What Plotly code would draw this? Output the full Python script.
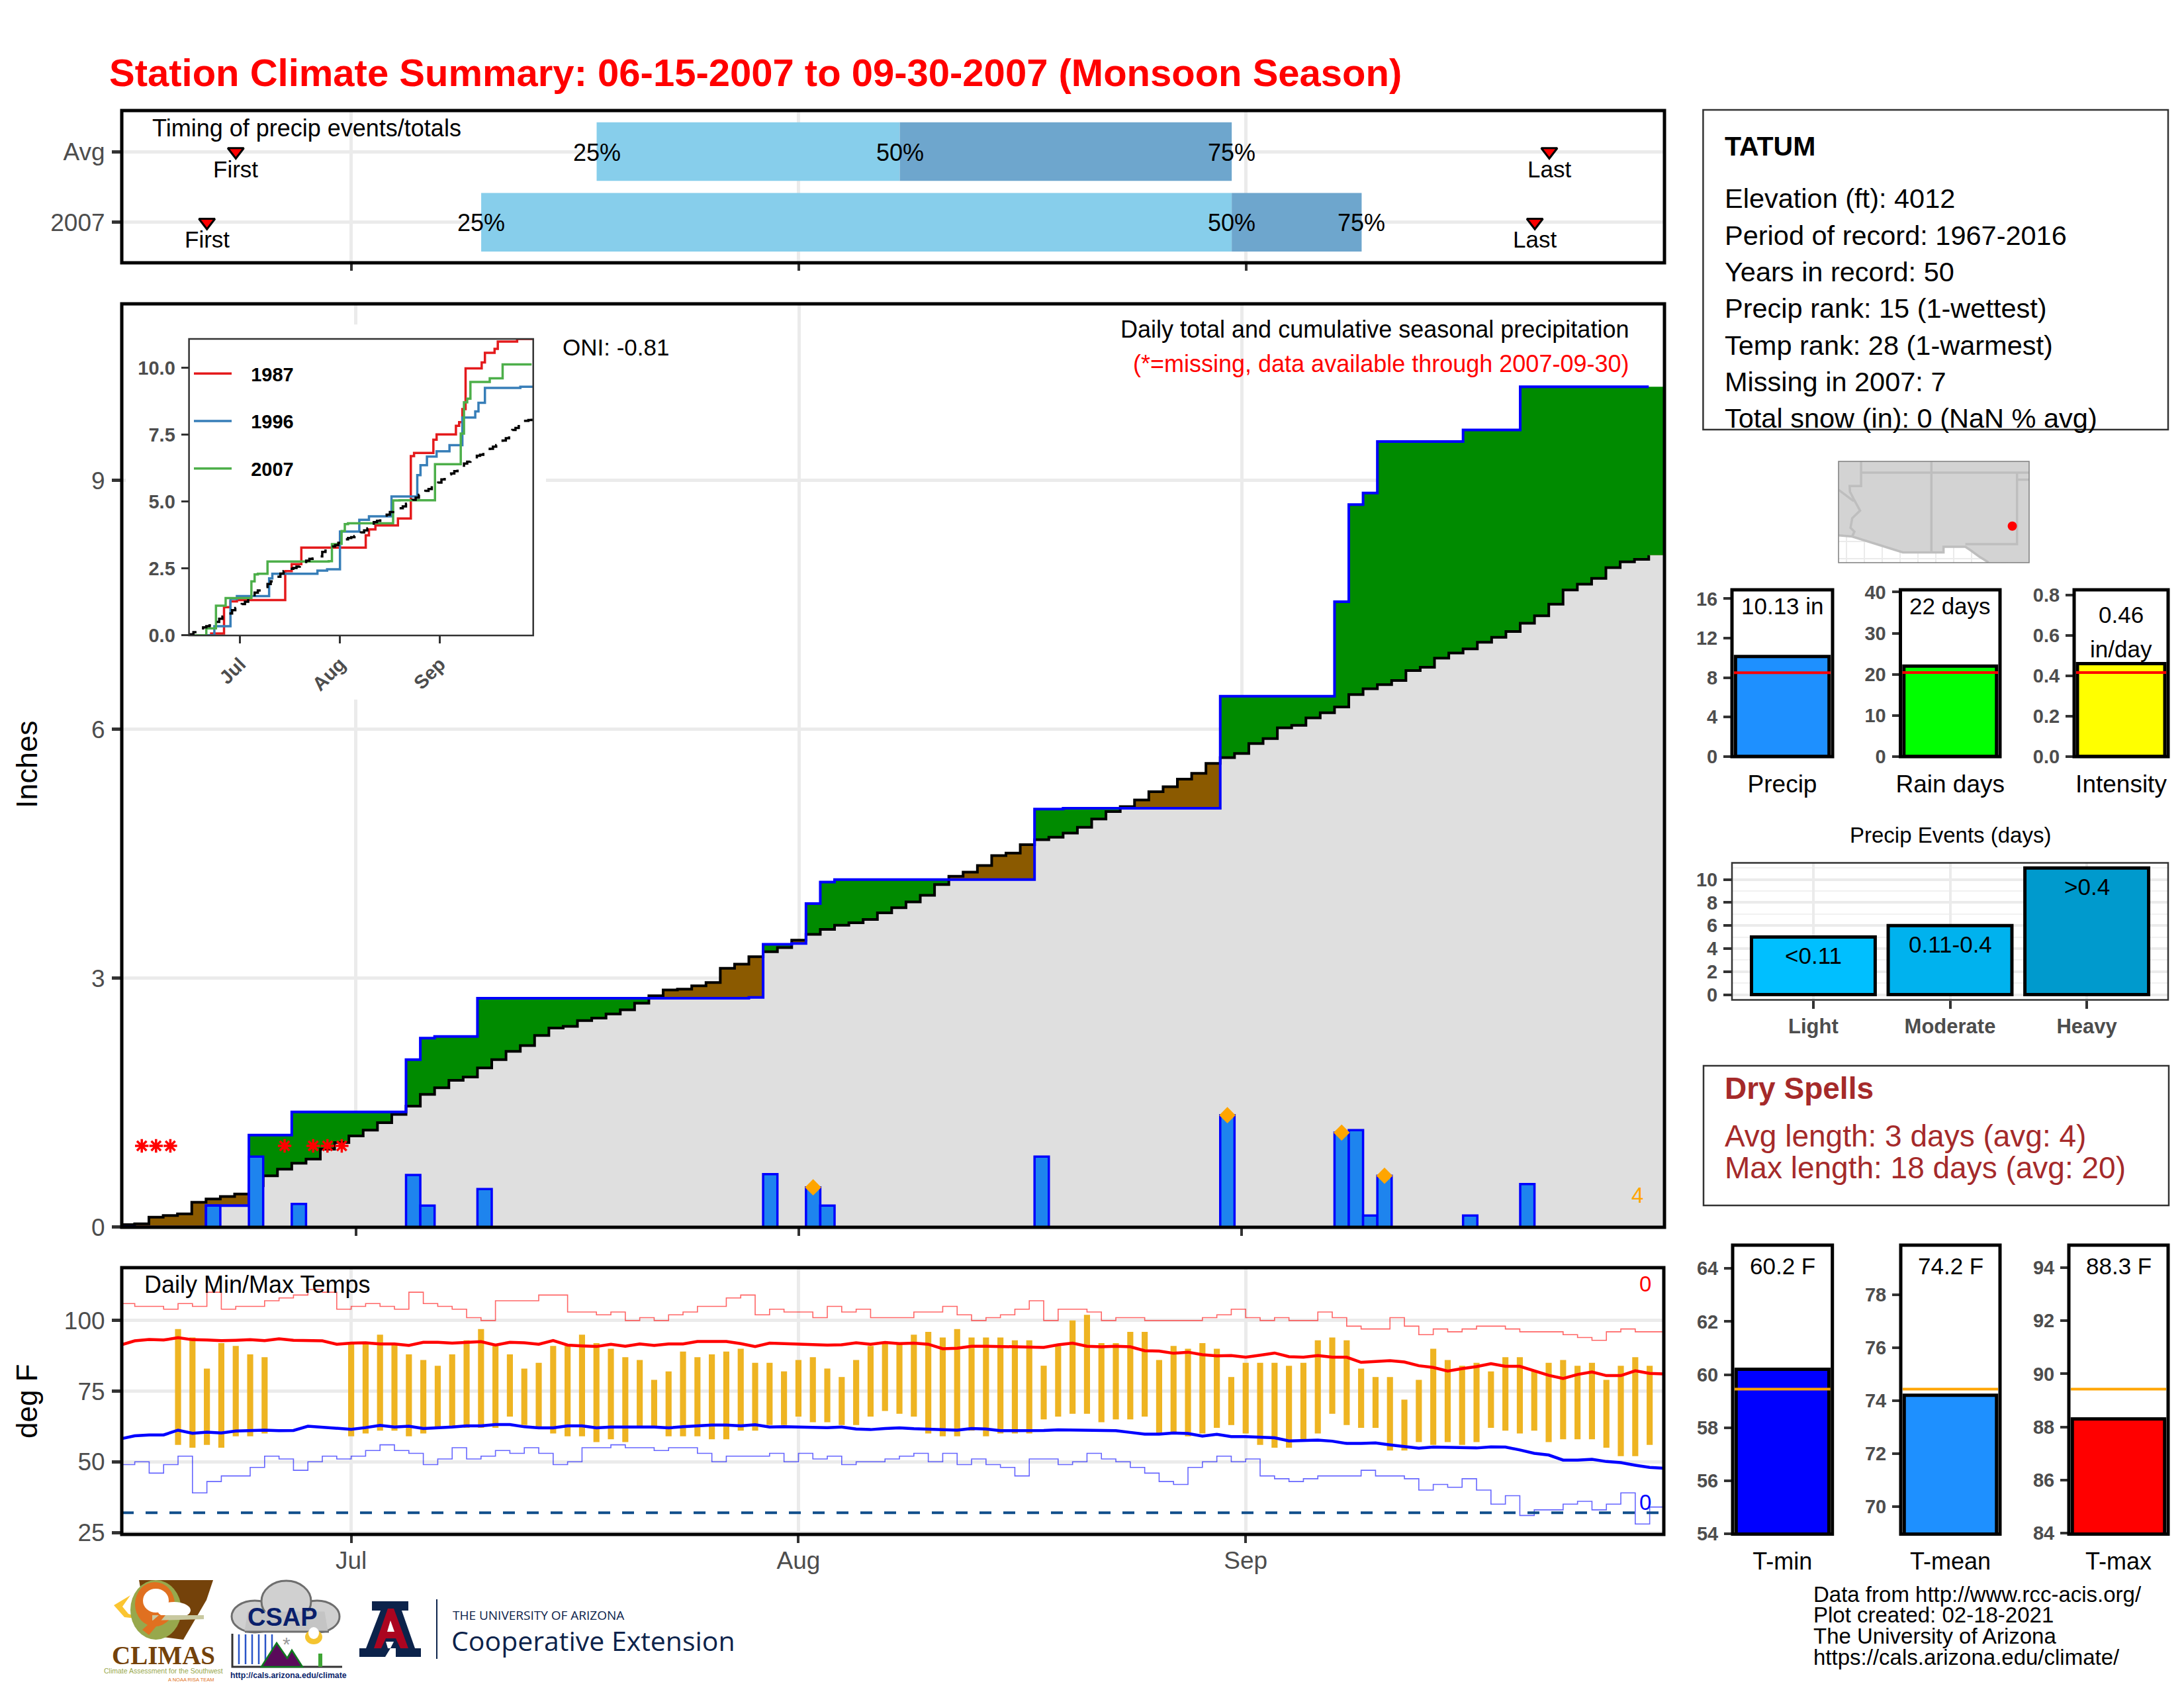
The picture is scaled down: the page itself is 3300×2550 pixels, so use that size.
import numpy as np
import plotly.graph_objects as go

# the page keeps its 8px body margin, so the figure is that much smaller than the 3300x2550 window
PAGE = 8
W, H = 3300 - 2 * PAGE, 2550 - 2 * PAGE
FONT = "Liberation Sans"

# day index: 0 = Jun 15 2007, 107 = Sep 30 2007
days = np.arange(108)
month_ticks = [16, 47, 78]
month_labels = ["Jul", "Aug", "Sep"]

# daily precip (inches)
rain_days = [6, 9, 12, 20, 21, 22, 25, 44, 45, 47, 48, 49, 50, 64, 66, 77, 85, 86, 87, 88, 94, 98]
rain_totals = [0.26, 0.85, 0.28, 0.63, 0.26, 0.02, 0.46, 0.01, 0.64, 0.01, 0.48, 0.26, 0.03,
               0.85, 0.01, 1.35, 1.14, 1.17, 0.14, 0.62, 0.14, 0.52]
extreme_days = [48, 77, 85, 88]
missing_days = [1, 2, 3, 11, 13, 14, 15]
missing_level = 0.98

# long term average cumulative precip
avg_cum = [0.03, 0.04, 0.12, 0.14, 0.16, 0.30, 0.34, 0.37, 0.40, 0.50, 0.62, 0.70, 0.77, 0.82, 0.94,
           1.02, 1.10, 1.17, 1.26, 1.36, 1.46, 1.60, 1.68, 1.77, 1.81, 1.92, 2.02, 2.12, 2.19, 2.31,
           2.40, 2.42, 2.49, 2.52, 2.57, 2.62, 2.70, 2.79, 2.86, 2.87, 2.91, 2.95, 3.12, 3.17, 3.26,
           3.32, 3.37, 3.46, 3.53, 3.59, 3.64, 3.67, 3.71, 3.79, 3.85, 3.92, 4.00, 4.13, 4.23, 4.28,
           4.36, 4.48, 4.51, 4.61, 4.67, 4.70, 4.75, 4.82, 4.92, 5.01, 5.07, 5.15, 5.25, 5.31, 5.40,
           5.47, 5.59, 5.66, 5.71, 5.83, 5.89, 6.02, 6.05, 6.14, 6.20, 6.27, 6.42, 6.49, 6.54, 6.59,
           6.71, 6.75, 6.86, 6.92, 6.97, 7.05, 7.11, 7.18, 7.28, 7.37, 7.51, 7.68, 7.75, 7.82, 7.95,
           8.02, 8.05, 8.10]

# wettest years for the inset
y1987_days = [0, 7, 11, 13, 15, 30, 32, 35, 55, 56, 58, 65, 69, 70, 76, 77, 83, 84, 85, 86, 91, 92, 95, 96, 102, 107]
y1987_cum = [0, 0.07, 1.05, 1.27, 1.32, 2.40, 2.66, 3.28, 3.74, 3.96, 4.11, 4.37, 6.70, 6.82, 7.31, 7.51,
             7.83, 7.97, 8.46, 9.98, 10.20, 10.56, 10.71, 10.98, 11.08, 11.08]
y1996_days = [0, 8, 13, 15, 25, 26, 40, 43, 47, 53, 56, 63, 71, 72, 74, 77, 81, 85, 89, 90, 92, 103, 107]
y1996_cum = [0, 0.34, 1.36, 1.47, 2.13, 2.30, 2.42, 2.47, 3.88, 4.32, 4.45, 5.19, 5.99, 6.36, 6.68, 6.88,
             7.11, 8.14, 8.37, 8.69, 9.25, 9.29, 9.29]

# daily temps, None = missing
tmax_obs = [None, None, None, None, 97, 94, 83, 92, 91, 88, 87, None, None, None, None, None,
            92, 92, 95, 92, 88, 86, 84, 88, 93, 97, 91, 88, 83, 85, 91, 91, 95, 92, 90, 87, 86, 79, 82, 89,
            87, 88, 89, 90, 85, 85, 82, 86, 87, 83, 80, 86, 91, 92, 92, 95, 96, 94, 97, 94, 94, 94, 93, 93,
            84, 91, 100, 102, 92, 92, 96, 96, 86, 91, 90, 92, 90, 80, 85, 85, 85, 84, 85, 93, 94, 93, 83, 80,
            80, 72, 79, 90, 86, 84, 85, 82, 87, 87, 82, 85, 86, 84, 85, 79, 84, 87, 84, None]
tmin_obs = [None, None, None, None, 56, 55, 56, 55, 59, 59, 60, None, None, None, None, None,
            59, 60, 61, 61, 59, 60, 62, 62, 62, 62, 62, 66, 63, 62, 60, 59, 59, 57, 58, 57, 62, 62, 59, 59,
            59, 58, 58, 61, 61, 63, 63, 66, 64, 64, 63, 63, 66, 68, 67, 66, 60, 59, 59, 61, 59, 60, 60, 60,
            65, 66, 67, 67, 64, 65, 65, 66, 60, 60, 59, 60, 62, 63, 60, 56, 55, 55, 58, 60, 67, 63, 62, 62,
            54, 54, 57, 56, 57, 56, 57, 62, 61, 60, 61, 57, 58, 58, 58, 55, 52, 52, 56, None]

# smoothed normals
tmax_avg = [91.3, 92.8, 93.3, 93.1, 93.9, 93.2, 93.1, 92.9, 93.0, 93.2, 92.9, 93.5, 93.0, 93.0, 92.8, 91.6,
            92.0, 92.1, 91.7, 91.7, 91.2, 92.3, 92.3, 92.0, 92.3, 92.5, 91.3, 92.3, 92.1, 91.6, 92.9, 91.3,
            91.0, 90.8, 91.6, 90.9, 91.7, 91.2, 91.7, 91.7, 92.6, 92.6, 92.6, 91.8, 90.8, 92.0, 91.8, 91.7,
            91.3, 91.3, 91.4, 92.1, 91.6, 92.2, 91.8, 92.0, 91.6, 90.0, 90.2, 90.9, 90.9, 90.8, 90.6, 90.5,
            90.5, 91.4, 92.0, 90.9, 90.7, 90.9, 90.7, 89.3, 89.2, 88.4, 88.8, 87.9, 87.5, 87.6, 87.0, 87.7,
            88.5, 87.2, 87.0, 87.6, 87.0, 87.0, 85.2, 85.5, 85.8, 85.3, 84.0, 83.4, 82.1, 83.0, 83.7, 84.7,
            83.8, 83.8, 82.3, 80.6, 79.5, 80.9, 81.8, 80.5, 80.5, 82.2, 81.3, 81.1]
tmin_avg = [58.1, 59.2, 59.5, 59.5, 61.2, 60.1, 60.5, 60.2, 60.9, 61.1, 61.2, 61.0, 61.1, 62.6, 62.3, 62.0,
            61.5, 62.1, 62.9, 62.3, 62.6, 61.8, 62.0, 62.3, 62.7, 62.7, 63.2, 63.2, 62.4, 62.0, 62.0, 62.7,
            62.7, 62.0, 62.3, 62.2, 62.3, 62.3, 62.0, 62.4, 62.7, 63.0, 63.0, 62.7, 63.1, 62.3, 62.4, 62.4,
            62.2, 62.1, 62.3, 61.6, 61.4, 61.8, 62.0, 61.7, 61.6, 61.3, 61.2, 61.8, 61.6, 61.0, 61.0, 61.1,
            61.1, 61.3, 61.2, 61.0, 61.1, 61.0, 60.4, 59.8, 59.8, 60.2, 60.0, 59.1, 59.7, 58.9, 58.9, 58.7,
            58.5, 57.4, 57.5, 57.7, 57.3, 56.5, 56.5, 56.7, 56.0, 55.4, 54.8, 55.2, 55.1, 54.9, 54.9, 55.3,
            55.2, 54.2, 53.0, 52.4, 50.6, 50.6, 50.9, 50.1, 49.7, 48.8, 48.0, 47.7]

# daily records
tmax_rec = [106, 105, 105, 104, 106, 105, 110, 104, 105, 105, 107, 108, 109, 111, 110, 104, 105, 106, 105, 104,
            110, 106, 105, 104, 101, 100, 107, 107, 107, 109, 109, 103, 103, 102, 103, 100, 101, 100, 102, 103,
            105, 105, 108, 109, 102, 104, 103, 103, 101, 105, 103, 104, 101, 101, 101, 103, 103, 105, 102, 100,
            101, 102, 104, 107, 100, 104, 104, 103, 100, 101, 101, 100, 100, 100, 100, 101, 102, 104, 101, 100,
            101, 100, 100, 103, 101, 98, 97, 97, 101, 98, 95, 97, 96, 97, 98, 98, 97, 96, 96, 96, 95, 94, 93,
            96, 97, 96, 96, 96]
tmin_rec = [49, 50, 46, 49, 52, 39, 43, 45, 45, 48, 52, 51, 47, 50, 52, 51, 52, 54, 56, 54, 53, 49, 51, 55, 51,
            52, 54, 53, 55, 53, 49, 50, 55, 55, 56, 55, 55, 54, 55, 55, 53, 50, 52, 52, 52, 53, 50, 53, 51, 52,
            49, 50, 50, 51, 52, 53, 50, 53, 49, 51, 49, 48, 45, 51, 51, 49, 50, 53, 51, 50, 48, 46, 43, 42, 48,
            50, 52, 50, 51, 45, 44, 43, 44, 45, 45, 45, 47, 45, 45, 44, 40, 42, 41, 44, 40, 35, 38, 31, 33, 33,
            35, 36, 33, 35, 39, 28, 34, 34]
freeze_level = [32, 32]

# timing panel
timing_cats = ["2007", "Avg"]
q25 = [25, 33]
q50 = [77, 54]
q75 = [86, 77]
first_day = [6, 8]
last_day = [98, 99]

# summary bars
summary_names = ["Precip", "Rain days", "Intensity"]
summary_vals = [10.13, 22, 0.46]
summary_avgs = [8.5, 20.4, 0.416]
summary_tops = [16.9, 40.55, 0.826]
summary_ticks = [[0, 4, 8, 12, 16], [0, 10, 20, 30, 40], [0.0, 0.2, 0.4, 0.6, 0.8]]
summary_ticktext = [["0", "4", "8", "12", "16"], ["0", "10", "20", "30", "40"], ["0.0", "0.2", "0.4", "0.6", "0.8"]]
summary_colors = ["#1E90FF", "#00FF00", "#FFFF00"]

event_names = ["Light", "Moderate", "Heavy"]
event_counts = [5, 6, 11]
event_labels = ["&lt;0.11", "0.11-0.4", "&gt;0.4"]
event_colors = ["#00BFFF", "#00B2EE", "#009ACD"]

temp_names = ["T-min", "T-mean", "T-max"]
temp_vals = [60.2, 74.2, 88.3]
temp_avgs = [59.45, 74.43, 89.42]
temp_ranges = [[53.99, 64.88], [68.96, 79.87], [83.96, 94.85]]
temp_ticks = [[54, 56, 58, 60, 62, 64], [70, 72, 74, 76, 78], [84, 86, 88, 90, 92, 94]]
temp_labels = ["60.2 F", "74.2 F", "88.3 F"]
temp_colors = ["#0000FF", "#1E90FF", "#FF0000"]

station_lines = ["Elevation (ft): 4012", "Period of record: 1967-2016", "Years in record: 50",
                 "Precip rank: 15 (1-wettest)", "Temp rank: 28 (1-warmest)", "Missing in 2007: 7",
                 "Total snow (in): 0 (NaN % avg)"]
credit_lines = ["Data from http://www.rcc-acis.org/", "Plot created: 02-18-2021",
                "The University of Arizona", "https://cals.arizona.edu/climate/"]

# locator map outlines (lon, lat)
land_lon = [-115.56, -114.6, -111.05, -108.2, -108.2, -106.67, -106.27, -105.72, -105.05, -102.2, -102.2, -115.56, -115.56]
land_lat = [32.54, 32.46, 31.33, 31.33, 31.73, 31.73, 31.46, 31.05, 30.62, 30.6, 37.8, 37.8, 32.54]
border_lon = [-113.98, -113.98, -114.78, -114.76, -114.49, -114.05, -114.6, -114.72, -114.45, -114.6, None,
              -115.56, -114.49, None, -115.56, -114.6, -111.05, -108.2, -108.2, -106.67, -106.27, -105.72, -105.05, None,
              -113.98, -102.2, None, -109.05, -109.05, None, -103.05, -103.05, -106.67, None, -103.05, -102.2]
border_lat = [37.8, 36.05, 36.05, 35.65, 35.11, 34.3, 33.76, 33.08, 32.81, 32.46, None,
              35.78, 34.97, None, 32.54, 32.46, 31.33, 31.33, 31.73, 31.73, 31.46, 31.05, 30.62, None,
              37.0, 37.0, None, 37.8, 31.33, None, 37.0, 31.92, 31.92, None, 36.5, 36.5]
station_lon = [-103.38]
station_lat = [33.2]

daily = np.zeros(108)
daily[rain_days] = rain_totals
obs_cum = np.cumsum(daily)
avg_arr = np.array(avg_cum)


# page pixels to paper fractions
def fx(x):
    return (x - PAGE) / W


def fy(y):
    return 1 - (y - PAGE) / H


fig = go.Figure()
layout = {}
annotations = []
shapes = []


def note(text, x, y, size=36, color="black", anchor="left", bold=False, family=FONT, angle=0):
    annotations.append(dict(text=text, x=fx(x), y=fy(y), xref="paper", yref="paper", showarrow=False,
                            xanchor=anchor, yanchor="middle", textangle=angle,
                            font=dict(size=size, color=color, family=family, weight=700 if bold else 400)))


def data_note(text, x, y, axis, size=35, color="black", yshift=0):
    annotations.append(dict(text=text, x=x, y=y, xref="x" + axis, yref="y" + axis, showarrow=False,
                            xanchor="center", yanchor="middle", yshift=yshift,
                            font=dict(size=size, color=color, family=FONT)))


def box(x0, y0, x1, y1, color="#333333", width=2.5):
    shapes.append(dict(type="rect", xref="paper", yref="paper", x0=fx(x0), x1=fx(x1), y0=fy(y0), y1=fy(y1),
                       line=dict(color=color, width=width), fillcolor="rgba(0,0,0,0)"))


def blob(path_pts, fill, line="rgba(0,0,0,0)", width=0, close=True):
    path = "M " + " L ".join(f"{fx(x):.5f},{fy(y):.5f}" for x, y in path_pts) + (" Z" if close else "")
    shapes.append(dict(type="path", xref="paper", yref="paper", path=path, fillcolor=fill,
                       line=dict(color=line, width=width)))


def oval(x0, y0, x1, y1, fill, line="rgba(0,0,0,0)", width=0):
    shapes.append(dict(type="circle", xref="paper", yref="paper", x0=fx(x0), x1=fx(x1), y0=fy(y0), y1=fy(y1),
                       fillcolor=fill, line=dict(color=line, width=width)))


def axes(n, xpx, ypx, xkw, ykw, line="black", lw=5):
    # xpx = (left, right), ypx = (top, bottom) of the panel frame, in page pixels.
    # plotly puts axis lines outside the domain, so the frame is a rect on top instead
    sfx = "" if n == 1 else str(n)
    base = dict(showline=False, zeroline=False, ticks="outside", ticklabelstandoff=3,
                tickcolor="#333333", showgrid=False, fixedrange=True, automargin=False)
    layout["xaxis" + sfx] = {**base, "domain": [fx(xpx[0]), fx(xpx[1])], "anchor": "y" + sfx, **xkw}
    layout["yaxis" + sfx] = {**base, "domain": [fy(ypx[1]), fy(ypx[0])], "anchor": "x" + sfx, **ykw}
    box(xpx[0], ypx[0], xpx[1], ypx[1], line, lw)


grey_txt = "#4D4D4D"
edges = days - 0.5
fill_x = np.append(edges, 107.6)
grid = dict(showgrid=True, gridcolor="#EBEBEB", gridwidth=5)

# ---- main precip panel
axes(1, (184, 2515), (459, 1854),
     dict(range=[-0.4, 107.6], tickvals=month_ticks, ticktext=["", "", ""], ticklen=12, tickwidth=4, **grid),
     dict(range=[-0.001, 11.13], tickvals=[0, 3, 6, 9], ticklen=14, tickwidth=5,
          tickfont=dict(size=37, color=grey_txt, family=FONT), **grid))
shapes.append(dict(type="rect", xref="x", yref="y", layer="between", x0=-0.12, x1=29.3, y0=6.36, y1=10.88,
                   fillcolor="white", line=dict(width=0)))

for vals, col in [(obs_cum, "#008B00"), (avg_arr, "#8B5A00"), (np.minimum(obs_cum, avg_arr), "#DFDFDF")]:
    fig.add_trace(go.Scatter(x=fill_x, y=np.append(vals, vals[-1]), mode="lines", fill="tozeroy", fillcolor=col,
                             line=dict(width=0, shape="hv"), showlegend=False, xaxis="x", yaxis="y"))
fig.add_trace(go.Scatter(x=edges, y=avg_arr, mode="lines", line=dict(color="black", width=4, shape="hv"),
                         showlegend=False, xaxis="x", yaxis="y"))
fig.add_trace(go.Scatter(x=edges, y=obs_cum, mode="lines", line=dict(color="#0000FF", width=4, shape="hv"),
                         showlegend=False, xaxis="x", yaxis="y"))

# bars go on an overlaid pair of axes, scatter fills would hide them otherwise
layout["xaxis13"] = dict(overlaying="x", range=layout["xaxis"]["range"], visible=False, fixedrange=True)
layout["yaxis13"] = dict(overlaying="y", range=layout["yaxis"]["range"], visible=False, fixedrange=True)
bar_days = [d for d, v in zip(rain_days, rain_totals) if v >= 0.05]
bar_vals = [v for v in rain_totals if v >= 0.05]
fig.add_trace(go.Bar(x=bar_days, y=bar_vals, width=1, marker=dict(color="#1E84EE", line=dict(color="#0000FF", width=3.5)),
                     showlegend=False, xaxis="x13", yaxis="y13"))
fig.add_trace(go.Scatter(x=extreme_days, y=daily[extreme_days], mode="markers",
                         marker=dict(symbol="diamond", color="#FFA500", size=19), showlegend=False, xaxis="x13", yaxis="y13"))
fig.add_trace(go.Scatter(x=missing_days, y=[missing_level] * len(missing_days), mode="markers",
                         marker=dict(symbol="asterisk-open", color="red", size=17, line=dict(color="red", width=3.5)),
                         showlegend=False, xaxis="x13", yaxis="y13"))

# ---- inset, cumulative for wettest years
axes(2, (285.6, 805.7), (512, 960),
     dict(range=[0.13, 107], tickvals=month_ticks, ticktext=month_labels, tickangle=-45, ticklen=11, tickwidth=3,
          tickfont=dict(size=29, color=grey_txt, family=FONT, weight=700)),
     dict(range=[-0.005, 11.08], tickvals=[0, 2.5, 5, 7.5, 10], ticktext=["0.0", "2.5", "5.0", "7.5", "10.0"], ticklen=11, tickwidth=3,
          tickfont=dict(size=29, color=grey_txt, family=FONT, weight=700)),
     line="#333333", lw=2.5)
for name, xv, yv, col in [("1987", y1987_days, y1987_cum, "#E41A1C"), ("1996", y1996_days, y1996_cum, "#377EB8"),
                          ("2007", edges, obs_cum, "#4DAF4A")]:
    fig.add_trace(go.Scatter(x=xv, y=yv, mode="lines", name="\u00a0\u00a0\u00a0" + name, legendgroup=name,
                             line=dict(color=col, width=3.5, shape="hv"), xaxis="x2", yaxis="y2"))
fig.add_trace(go.Scatter(x=edges, y=avg_arr, mode="lines", line=dict(color="black", width=3.5, shape="hv", dash="18px,14px"),
                         showlegend=False, xaxis="x2", yaxis="y2"))

# ---- timing panel
axes(3, (184, 2515), (167, 397),
     dict(range=[0.1, 106.98], tickvals=month_ticks, ticktext=["", "", ""], ticklen=11, tickwidth=4, **grid),
     dict(type="category", categoryorder="array", categoryarray=timing_cats, range=[-0.574, 1.581], ticklen=14, tickwidth=5,
          tickfont=dict(size=37, color=grey_txt, family=FONT), **grid))
q25a, q50a, q75a = np.array(q25), np.array(q50), np.array(q75)
fig.add_trace(go.Bar(y=timing_cats, x=q50a - q25a, base=q25a, orientation="h", width=0.83, marker=dict(color="#87CEEB", line=dict(width=0)),
                     showlegend=False, xaxis="x3", yaxis="y3"))
fig.add_trace(go.Bar(y=timing_cats, x=q75a - q50a, base=q50a, orientation="h", width=0.83, marker=dict(color="#6EA6CD", line=dict(width=0)),
                     showlegend=False, xaxis="x3", yaxis="y3"))
for xs in (first_day, last_day):
    fig.add_trace(go.Scatter(x=xs, y=timing_cats, mode="markers",
                             marker=dict(symbol="triangle-down", color="red", size=21, line=dict(color="black", width=3)),
                             showlegend=False, xaxis="x3", yaxis="y3"))
for i in range(len(timing_cats)):
    for v, label in [(q25[i], "25%"), (q50[i], "50%"), (q75[i], "75%")]:
        data_note(label, v, i, "3", size=36, yshift=-1)
    data_note("First", first_day[i], i, "3", yshift=-26)
    data_note("Last", last_day[i], i, "3", yshift=-26)

# ---- daily temps
axes(4, (184, 2514), (1915, 2318),
     dict(range=[0.1, 106.98], tickvals=month_ticks, ticktext=month_labels, ticklen=12, tickwidth=4, ticklabelstandoff=-5,
          tickfont=dict(size=37, color=grey_txt, family=FONT), **grid),
     dict(range=[24.3, 118.7], tickvals=[25, 50, 75, 100], ticklen=14, tickwidth=5,
          tickfont=dict(size=37, color=grey_txt, family=FONT), **grid))
temp_span = [None if hi is None else hi - lo for hi, lo in zip(tmax_obs, tmin_obs)]
fig.add_trace(go.Bar(x=days, y=temp_span, base=tmin_obs, width=0.42, marker=dict(color="#EEB422", line=dict(width=0)),
                     showlegend=False, xaxis="x4", yaxis="y4"))
fig.add_trace(go.Scatter(x=days, y=tmax_rec, mode="lines", line=dict(color="rgba(255,0,0,0.6)", width=1.6, shape="hv"),
                         showlegend=False, xaxis="x4", yaxis="y4"))
fig.add_trace(go.Scatter(x=days, y=tmin_rec, mode="lines", line=dict(color="rgba(0,0,255,0.6)", width=1.6, shape="hv"),
                         showlegend=False, xaxis="x4", yaxis="y4"))
fig.add_trace(go.Scatter(x=days, y=tmax_avg, mode="lines", line=dict(color="#FF0000", width=4.5),
                         showlegend=False, xaxis="x4", yaxis="y4"))
fig.add_trace(go.Scatter(x=days, y=tmin_avg, mode="lines", line=dict(color="#0000FF", width=4.5),
                         showlegend=False, xaxis="x4", yaxis="y4"))
fig.add_trace(go.Scatter(x=[0.1, 106.98], y=freeze_level, mode="lines", line=dict(color="#104E8B", width=4, dash="18px,18px"),
                         showlegend=False, xaxis="x4", yaxis="y4"))

# ---- precip summary bars
summary_left = [(2617, 2769), (2871.5, 3022), (3134, 3276)]
summary_text = ["10.13 in", "22 days", "0.46"]
summary_text_y = [15.25, 36.6, 0.704]
for i in range(3):
    n = 5 + i
    axes(n, summary_left[i], (891, 1143),
         dict(range=[-0.5, 0.5], tickvals=[0], ticktext=[summary_names[i]], ticklen=6, tickcolor="rgba(0,0,0,0)",
              tickfont=dict(size=37, color="black", family=FONT)),
         dict(range=[-summary_tops[i] / 1000, summary_tops[i]], tickvals=summary_ticks[i], ticktext=summary_ticktext[i], ticklen=12, tickwidth=4,
              tickfont=dict(size=29, color=grey_txt, family=FONT, weight=700)))
    fig.add_trace(go.Bar(x=[0], y=[summary_vals[i]], width=0.93, marker=dict(color=summary_colors[i], line=dict(color="black", width=5)),
                         showlegend=False, xaxis=f"x{n}", yaxis=f"y{n}"))
    fig.add_trace(go.Scatter(x=[-0.48, 0.48], y=[summary_avgs[i]] * 2, mode="lines", line=dict(color="red", width=4),
                             showlegend=False, xaxis=f"x{n}", yaxis=f"y{n}"))
    data_note(summary_text[i], 0, summary_text_y[i], str(n))
data_note("in/day", 0, 0.532, "7")

# ---- precip event bars
axes(8, (2617, 3276), (1303.4, 1510.6),
     dict(range=[-0.595, 2.595], tickvals=[0, 1, 2], ticktext=event_names, ticklen=12, tickwidth=4, ticklabelstandoff=0,
          showgrid=True, gridcolor="#EBEBEB", gridwidth=4,
          tickfont=dict(size=31, color=grey_txt, family=FONT, weight=700)),
     dict(range=[-0.46, 11.45], tickvals=[0, 2, 4, 6, 8, 10], ticklen=12, tickwidth=4,
          showgrid=True, gridcolor="#EBEBEB", gridwidth=3.5,
          minor=dict(tickvals=[1, 3, 5, 7, 9, 11], showgrid=True, gridcolor="#F1F1F1", gridwidth=2, ticks=""),
          tickfont=dict(size=29, color=grey_txt, family=FONT, weight=700)),
     line="#333333", lw=2.5)
fig.add_trace(go.Bar(x=[0, 1, 2], y=event_counts, width=0.905, marker=dict(color=event_colors, line=dict(color="black", width=5)),
                     showlegend=False, xaxis="x8", yaxis="y8"))
for i in range(3):
    data_note(event_labels[i], i, event_counts[i] - 1.6, "8")
note("Precip Events (days)", 2947, 1261, size=33, anchor="center")

# ---- temp summary bars
temp_left = [(2618, 2768.7), (2872, 3022), (3126, 3276)]
temp_text_y = [64.1, 79.08, 94.07]
for i in range(3):
    n = 9 + i
    axes(n, temp_left[i], (1881, 2317.4),
         dict(range=[-0.5, 0.5], tickvals=[0], ticktext=[temp_names[i]], ticklen=6, tickcolor="rgba(0,0,0,0)",
              tickfont=dict(size=36, color="black", family=FONT)),
         dict(range=temp_ranges[i], tickvals=temp_ticks[i], ticklen=12, tickwidth=4,
              tickfont=dict(size=29, color=grey_txt, family=FONT, weight=700)))
    floor = temp_ranges[i][0]
    fig.add_trace(go.Bar(x=[0], y=[temp_vals[i] - floor], base=[floor], width=0.93,
                         marker=dict(color=temp_colors[i], line=dict(color="black", width=5)),
                         showlegend=False, xaxis=f"x{n}", yaxis=f"y{n}"))
    fig.add_trace(go.Scatter(x=[-0.48, 0.48], y=[temp_avgs[i]] * 2, mode="lines", line=dict(color="#FFA500", width=4),
                             showlegend=False, xaxis=f"x{n}", yaxis=f"y{n}"))
    data_note(temp_labels[i], 0, temp_text_y[i], str(n))

# ---- locator map
axes(12, (2778, 3066), (697, 850),
     dict(range=[-115.56, -102.2], tick0=-115, dtick=1.25, ticks="", showticklabels=False, showgrid=True, gridcolor="#EBEBEB", gridwidth=2),
     dict(range=[30.6, 37.8], tickvals=[30.9, 32.1], ticks="", showticklabels=False, showgrid=True, gridcolor="#EBEBEB", gridwidth=2),
     line="#7F7F7F", lw=1.5)
fig.add_trace(go.Scatter(x=land_lon, y=land_lat, mode="lines", fill="toself", fillcolor="#D3D3D3", line=dict(width=0),
                         showlegend=False, xaxis="x12", yaxis="y12"))
fig.add_trace(go.Scatter(x=border_lon, y=border_lat, mode="lines", line=dict(color="#BEBEBE", width=3.5),
                         showlegend=False, xaxis="x12", yaxis="y12"))
fig.add_trace(go.Scatter(x=station_lon, y=station_lat, mode="markers", marker=dict(color="red", size=14),
                         showlegend=False, xaxis="x12", yaxis="y12"))

# ---- text blocks
note("Station Climate Summary: 06-15-2007 to 09-30-2007 (Monsoon Season)", 163, 110, size=58, color="red", bold=True)
note("Timing of precip events/totals", 228, 193)
note("ONI: -0.81", 848, 524, size=35)
note("Daily total and cumulative seasonal precipitation", 2463, 497, anchor="right")
note("(*=missing, data available through 2007-09-30)", 2463, 549, color="red", anchor="right")
note("4", 2474, 1805, size=33, color="#FFA500", anchor="center")
note("Daily Min/Max Temps", 216, 1940)
note("0", 2486, 1939, size=33, color="red", anchor="center")
note("0", 2486, 2269, size=33, color="#0000FF", anchor="center")
note("Inches", 40, 1155, size=45, anchor="center", angle=-90)
note("deg F", 40, 2117, size=44, anchor="center", angle=-90)

box(2573.4, 166, 3276, 649)
note("TATUM", 2604, 221, size=41, bold=True)
for i, line in enumerate(station_lines):
    note(line, 2604, 299.6 + i * 55.4, size=41.5)

box(2574, 1610, 3277, 1821)
note("Dry Spells", 2604, 1644, size=46, color="#A52A2A", bold=True)
note("Avg length: 3 days (avg: 4)", 2604, 1716, size=46, color="#A52A2A")
note("Max length: 18 days (avg: 20)", 2604, 1764, size=46, color="#A52A2A")

for i, line in enumerate(credit_lines):
    note(line, 2738, 2408 + i * 31.7, size=33)

# ---- logos, drawn by hand
blob([(197, 2410), (172, 2425), (188, 2443), (223, 2447), (194, 2438), (185, 2427)], "#FBC531")
blob([(210, 2387), (322, 2387), (312, 2417), (277, 2477), (225, 2470)], "#74420A")
oval(197, 2387, 274, 2477, "#97A84C")
oval(204, 2390, 264, 2457, "#E07020")
oval(216, 2400, 255, 2436, "white")
oval(238, 2420, 288, 2445, "white")
blob([(230, 2440), (308, 2440), (308, 2446), (230, 2448)], "#C8C8A0")
blob([(215, 2462), (240, 2440), (250, 2440), (225, 2470)], "#E07020")
note("CLIMAS", 247, 2500, size=39, color="#74420A", anchor="center", bold=True, family="Liberation Serif")
note("Climate Assessment for the Southwest", 247, 2524, size=10.5, color="#97A84C", anchor="center")
note("A NOAA RISA TEAM", 325, 2537, size=7.5, color="#E07020", anchor="right")

oval(350, 2418, 420, 2466, "#D0D0D0", "#6E6E6E", 3)
oval(445, 2418, 513, 2466, "#D0D0D0", "#6E6E6E", 3)
oval(395, 2388, 470, 2450, "#D0D0D0", "#6E6E6E", 3)
blob([(375, 2435), (490, 2435), (495, 2464), (370, 2464)], "#C4C4C4", "#C4C4C4", 1)
blob([(370, 2465), (497, 2465)], "#6E6E6E", "#6E6E6E", 3, close=False)
note("CSAP", 427, 2443, size=38, color="#0A1F6B", anchor="center", bold=True)
for rx in [361, 371, 381, 391, 401, 411]:
    blob([(rx, 2469), (rx, 2514)], "rgba(0,0,0,0)", "#2A55C8", 2.5, close=False)
blob([(351, 2468), (351, 2518), (517, 2518)], "rgba(0,0,0,0)", "#333333", 3, close=False)
blob([(395, 2518), (418, 2482), (434, 2505), (441, 2493), (457, 2518)], "#5A0A5A", "#0F7A1E", 2.5)
note("*", 433, 2483, size=30, color="#999999", anchor="center")
oval(461, 2462, 487, 2484, "#F4C430")
oval(466, 2458, 482, 2476, "white")
blob([(484, 2498), (484, 2518)], "rgba(0,0,0,0)", "#3FA535", 6, close=False)
note("http://cals.arizona.edu/climate", 436, 2531, size=12.3, color="#0A1F6B", anchor="center", bold=True)

blob([(543, 2503), (543, 2490), (553, 2490), (575, 2433), (562, 2433), (562, 2419), (617, 2419), (617, 2433),
      (607, 2433), (627, 2490), (636, 2490), (636, 2503), (598, 2503), (598, 2490), (586, 2490), (583, 2480),
      (595, 2480), (590, 2490), (582, 2503)], "#0C234B")
blob([(565, 2490), (586, 2430), (595, 2430), (617, 2490), (605, 2490), (598, 2475), (583, 2475), (576, 2490)], "#AB0520")
blob([(590, 2448), (585, 2465), (596, 2465)], "white")
blob([(660, 2416), (660, 2506)], "rgba(0,0,0,0)", "#0C234B", 2, close=False)
note("THE UNIVERSITY OF ARIZONA", 682, 2440, size=19, color="#0C234B", family="Open Sans")
note("Cooperative Extension", 680, 2478, size=41, color="#0C234B", family="Open Sans")

fig.update_layout(
    width=W, height=H,
    margin=dict(l=0, r=0, t=0, b=0),
    paper_bgcolor="white", plot_bgcolor="white",
    font=dict(family=FONT, color="black"),
    barmode="overlay",
    annotations=annotations, shapes=shapes,
    legend=dict(x=fx(288), y=fy(539), xanchor="left", yanchor="top", bgcolor="white", borderwidth=0,
                tracegroupgap=31, itemwidth=57, font=dict(size=29, color="black", family=FONT, weight=700)),
    **layout,
)

fig.write_html("out.html")
